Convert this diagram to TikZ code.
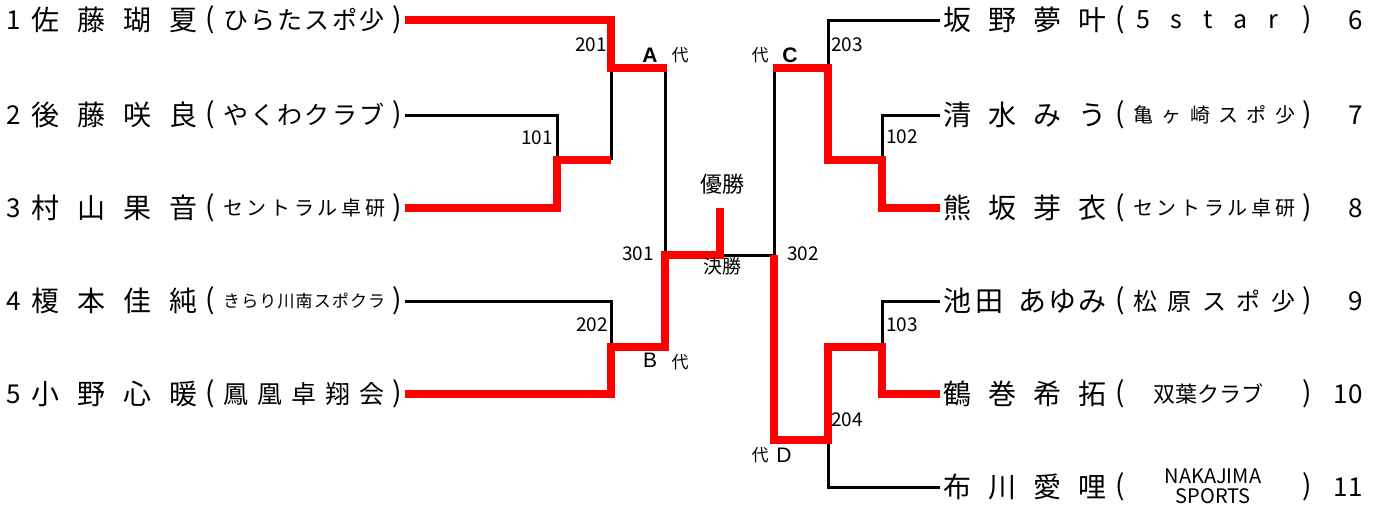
\documentclass[tikz,border=0pt]{standalone}
\usepackage{fontspec}
\setmainfont{Noto Sans CJK JP}
\newfontfamily\lsans{Liberation Sans}
\newcommand\fs[1]{\fontsize{#1}{#1}\selectfont}
\newcommand\spr[2]{\makebox[#1pt]{#2}}
\begin{document}
\begin{tikzpicture}[x=1pt,y=-1pt,
  blk/.style={line width=3pt, line join=miter},
  win/.style={red, line width=8.5pt, line join=miter},
  lab/.style={font=\fs{19}, inner sep=0},
  dai/.style={font=\fs{17}, inner sep=0},
  let/.style={font=\lsans\fs{20}, inner sep=0},
  nm/.style={font=\fs{28}, inner sep=0, anchor=west},
  num/.style={font=\fs{26}, inner sep=0},
  par/.style={font=\fs{28}, inner sep=0},
  clb/.style={inner sep=0, anchor=west}]
\useasboundingbox (0,0) rectangle (1379,512);
% end points
\coordinate (L1) at (405,20);  \coordinate (L2) at (405,115);
\coordinate (L3) at (405,208); \coordinate (L4) at (405,301);
\coordinate (L5) at (405,394);
\coordinate (R6) at (940,20);  \coordinate (R7) at (940,115);
\coordinate (R8) at (940,208); \coordinate (R9) at (940,301);
\coordinate (R10) at (940,394); \coordinate (R11) at (940,487);
% junctions
\coordinate (m101) at (557,160); \coordinate (m201) at (611,68);
\coordinate (m202) at (611,347); \coordinate (m301) at (665,255);
\coordinate (fin) at (720,255);  \coordinate (top) at (720,208);
\coordinate (m302) at (774,255); \coordinate (m203) at (828,68);
\coordinate (m102) at (882,160); \coordinate (m103) at (882,347);
\coordinate (m204) at (828,440);
% black lines
\draw[blk] (L2) -| (m101);
\draw[blk] (m101 -| m201) -- (m201);
\draw[blk] (m201 -| m301) -- (m301);
\draw[blk] (L4) -| (m202);
\draw[blk] (fin) -- (m302) -- (m203 -| m302);
\draw[blk] (m203) |- (R6);
\draw[blk] (R7) -| (m102);
\draw[blk] (R9) -| (m103);
\draw[blk] (m204) |- (R11);
% winners
\draw[win] (L1) -| (m201) -- ([xshift=1.5pt]m201 -| m301);
\draw[win] (L3) -| (m101) -- (m101 -| m201);
\draw[win] (L5) -| (m202) -- (m202 -| m301) -- (m301) -- (fin) -- (top);
\draw[win] (R8) -| (m102) -- (m102 -| m203) -- (m203) -- ([xshift=-1.5pt]m203 -| m302);
\draw[win] (R10) -| (m103) -- (m103 -| m204) -- (m204) -- (m204 -| m302) -- (m302);
% match labels
\node[lab] (t201) at (591,45) {201};
\node[lab] (t101) at (537,138) {101};
\node[lab] (t202) at (592,325) {202};
\node[lab] (t301) at (638,254) {301};
\node[lab] (t302) at (803,254) {302};
\node[lab] (t203) at (847,45) {203};
\node[lab] (t102) at (902,137) {102};
\node[lab] (t103) at (902,325) {103};
\node[lab] (t204) at (847,420) {204};
\node[let, font=\lsans\bfseries\fs{21}] (lA) at (650,55) {A};
\node[dai] (dA) at (680,55) {代};
\node[let, font=\lsans\bfseries\fs{21}] (lC) at (790,55) {C};
\node[dai] (dC) at (760,55) {代};
\node[let, font=\lsans\fs{21}] (lB) at (650,360) {B};
\node[dai] (dB) at (680,362) {代};
\node[let, font=\lsans\fs{21}] (lD) at (784,455) {D};
\node[dai] (dD) at (760,455) {代};
\node[font=\fs{22}, inner sep=0] (yusho) at (722,184) {優勝};
\node[font=\fs{19}, inner sep=0] (kessho) at (722,266) {決勝};
% left players
\node[num] (n1) at (14,20) {1};
\node[nm] (a1) at (31,20) {\spr{166}{佐\hfill 藤\hfill 瑚\hfill 夏}};
\node[par] (o1) at (210,20) {(};
\node[clb, font=\fs{25}] (c1) at (223,20) {\spr{161}{ひ\hfill ら\hfill た\hfill ス\hfill ポ\hfill 少}};
\node[par] (e1) at (397,20) {)};
\node[num] (n2) at (14,115) {2};
\node[nm] (a2) at (31,115) {\spr{166}{後\hfill 藤\hfill 咲\hfill 良}};
\node[par] (o2) at (210,115) {(};
\node[clb, font=\fs{25}] (c2) at (223,115) {\spr{161}{や\hfill く\hfill わ\hfill ク\hfill ラ\hfill ブ}};
\node[par] (e2) at (397,115) {)};
\node[num] (n3) at (14,208) {3};
\node[nm] (a3) at (31,208) {\spr{166}{村\hfill 山\hfill 果\hfill 音}};
\node[par] (o3) at (210,208) {(};
\node[clb, font=\fs{20}] (c3) at (223,208) {\spr{162}{セ\hfill ン\hfill ト\hfill ラ\hfill ル\hfill 卓\hfill 研}};
\node[par] (e3) at (397,208) {)};
\node[num] (n4) at (14,301) {4};
\node[nm] (a4) at (31,301) {\spr{166}{榎\hfill 本\hfill 佳\hfill 純}};
\node[par] (o4) at (210,301) {(};
\node[clb, font=\fs{17}] (c4) at (223,301) {\spr{162}{き\hfill ら\hfill り\hfill 川\hfill 南\hfill ス\hfill ポ\hfill ク\hfill ラ}};
\node[par] (e4) at (397,301) {)};
\node[num] (n5) at (14,394) {5};
\node[nm] (a5) at (31,394) {\spr{166}{小\hfill 野\hfill 心\hfill 暖}};
\node[par] (o5) at (210,394) {(};
\node[clb, font=\fs{25}] (c5) at (223,394) {\spr{161}{鳳\hfill 凰\hfill 卓\hfill 翔\hfill 会}};
\node[par] (e5) at (397,394) {)};
% right players
\node[nm] (a6) at (943,20) {\spr{163}{坂\hfill 野\hfill 夢\hfill 叶}};
\node[par] (o6) at (1120,20) {(};
\node[clb, font=\fs{25}] (c6) at (1136,20) {\spr{142}{5\hfill s\hfill t\hfill a\hfill r}};
\node[par] (e6) at (1307,20) {)};
\node[num, anchor=east] (n6) at (1363,20) {6};
\node[nm] (a7) at (943,115) {\spr{163}{清\hfill 水\hfill み\hfill う}};
\node[par] (o7) at (1120,115) {(};
\node[clb, font=\fs{20}] (c7) at (1133,115) {\spr{162}{亀\hfill ヶ\hfill 崎\hfill ス\hfill ポ\hfill 少}};
\node[par] (e7) at (1307,115) {)};
\node[num, anchor=east] (n7) at (1363,115) {7};
\node[nm] (a8) at (943,208) {\spr{163}{熊\hfill 坂\hfill 芽\hfill 衣}};
\node[par] (o8) at (1120,208) {(};
\node[clb, font=\fs{20}] (c8) at (1133,208) {\spr{162}{セ\hfill ン\hfill ト\hfill ラ\hfill ル\hfill 卓\hfill 研}};
\node[par] (e8) at (1307,208) {)};
\node[num, anchor=east] (n8) at (1363,208) {8};
\node[nm] (a9) at (943,301) {\spr{163}{池\hspace{4pt}田\hfill あ\hspace{2pt}ゆ\hspace{2pt}み}};
\node[par] (o9) at (1120,301) {(};
\node[clb, font=\fs{24}] (c9) at (1133,301) {\spr{162}{松\hfill 原\hfill ス\hfill ポ\hfill 少}};
\node[par] (e9) at (1307,301) {)};
\node[num, anchor=east] (n9) at (1363,301) {9};
\node[nm] (a10) at (943,394) {\spr{163}{鶴\hfill 巻\hfill 希\hfill 拓}};
\node[par] (o10) at (1120,394) {(};
\node[font=\fs{22}, inner sep=0] (c10) at (1208,394) {双葉クラブ};
\node[par] (e10) at (1307,394) {)};
\node[num, anchor=east] (n10) at (1363,394) {10};
\node[nm] (a11) at (943,487) {\spr{163}{布\hfill 川\hfill 愛\hfill 哩}};
\node[par] (o11) at (1120,487) {(};
\node[font=\fs{20}, inner sep=0, align=center] (c11) at (1213,486) {\fontsize{20}{23}\selectfont NAKAJIMA\\SPORTS};
\node[par] (e11) at (1307,487) {)};
\node[num, anchor=east] (n11) at (1363,487) {11};
\end{tikzpicture}
\end{document}
